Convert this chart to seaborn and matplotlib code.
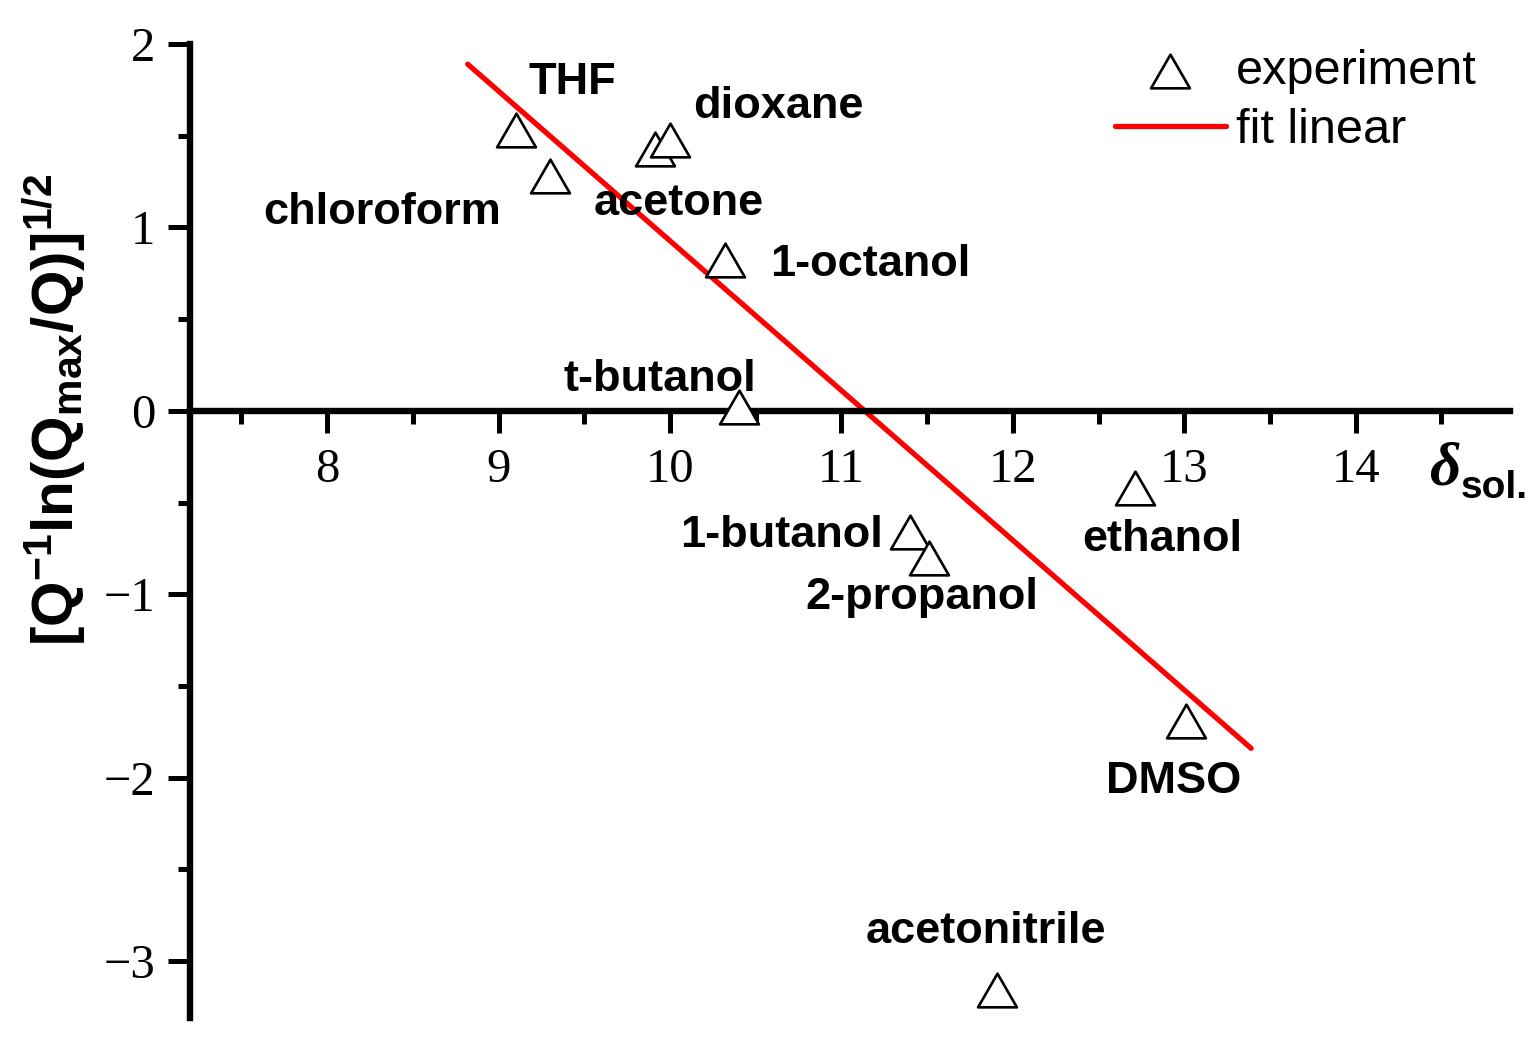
import numpy as np
import pandas as pd
import matplotlib
matplotlib.use("Agg")
import matplotlib.pyplot as plt
from matplotlib.ticker import MultipleLocator
from matplotlib.path import Path
import seaborn as sns

# data
solvents = ["THF", "chloroform", "acetone", "dioxane", "1-octanol", "t-butanol",
            "1-butanol", "2-propanol", "ethanol", "DMSO", "acetonitrile"]
delta_sol = [9.10, 9.30, 9.91, 10.00, 10.32, 10.40, 11.40, 11.51, 12.71, 13.01, 11.91]
q_val = [1.53, 1.28, 1.43, 1.475, 0.82, 0.02, -0.66, -0.80, -0.42, -1.69, -3.16]

# linear fit line end points
fit_x = [8.82, 13.39]
fit_y = [1.89, -1.84]

# label positions (text centres)
label_x = [9.43, 8.32, 10.05, 10.63, 11.17, 9.94, 10.65, 11.47, 12.87, 12.94, 11.84]
label_y = [1.79, 1.08, 1.13, 1.66, 0.80, 0.17, -0.68, -1.02, -0.70, -2.02, -2.84]

df = pd.DataFrame({"solvent": solvents, "delta": delta_sol, "q": q_val})
fit_df = pd.DataFrame({"delta": fit_x, "q": fit_y})

sns.set_style("ticks")
plt.rcParams['font.family'] = ['Liberation Sans', 'DejaVu Sans']
plt.rcParams['text.color'] = 'black'
plt.rcParams['axes.labelcolor'] = 'black'
plt.rcParams['mathtext.fontset'] = 'custom'
plt.rcParams['mathtext.rm'] = 'Liberation Sans:bold'
plt.rcParams['mathtext.it'] = 'Liberation Sans:bold'
plt.rcParams['mathtext.bf'] = 'Liberation Sans:bold'

fig = plt.figure(figsize=(15.39, 10.45), dpi=100)
ax = fig.add_axes([190 / 1539, 1 - 1018 / 1045, 1320 / 1539, 974 / 1045])

# equilateral open triangle
tri = Path([(-1, -0.866), (1, -0.866), (0, 0.866), (-1, -0.866)],
           [Path.MOVETO, Path.LINETO, Path.LINETO, Path.CLOSEPOLY])

sns.lineplot(data=fit_df, x="delta", y="q", ax=ax, color="#ff0000", lw=3.8,
             label="fit linear", zorder=2)
sns.scatterplot(data=df, x="delta", y="q", ax=ax, marker=tri, s=28 ** 2,
                facecolor="white", edgecolor="black", linewidth=1.9,
                label="experiment", zorder=3)

for name, lx, ly in zip(solvents, label_x, label_y):
    ax.text(lx, ly, name, ha="center", va="center", fontsize=32.5,
            fontweight="bold", family="Liberation Sans", color="black")

ax.set_xlim(7.2, 14.9)
ax.set_ylim(-3.31, 2.0)
ax.set_xlabel("")
ax.set_ylabel(r"$\mathrm{[Q^{-1}ln(Q_{max}/Q)]^{1/2}}$", fontsize=42)
ax.yaxis.set_label_coords(-0.077, 0.624)

ax.spines["top"].set_visible(False)
ax.spines["right"].set_visible(False)
ax.spines["bottom"].set_position(("data", 0))
for s in ["left", "bottom"]:
    ax.spines[s].set_linewidth(4.6)
    ax.spines[s].set_color("black")

ax.xaxis.set_minor_locator(MultipleLocator(0.5))
ax.yaxis.set_minor_locator(MultipleLocator(0.5))
ax.set_xticks([8, 9, 10, 11, 12, 13, 14])
ax.set_yticks([-3, -2, -1, 0, 1, 2])
ax.set_yticklabels(["\u22123", "\u22122", "\u22121", "0", "1", "2"])
ax.tick_params(which="major", direction="out", length=16, width=3.6, colors="black",
               labelsize=35, pad=9)
ax.tick_params(which="minor", direction="out", length=9, width=3.6, colors="black")
ax.tick_params(axis="x", which="major", pad=11)
ax.tick_params(bottom=True, left=True, top=False, right=False, which="both")
for t in ax.get_xticklabels() + ax.get_yticklabels():
    t.set_family("Liberation Serif")

ax.text(14.52, -0.32, "\u03b4", ha="center", va="center", fontsize=44,
        family="Liberation Serif", style="italic", fontweight="bold")
ax.text(14.615, -0.42, "sol.", ha="left", va="center", fontsize=28,
        family="Liberation Sans", fontweight="bold")

handles, labels = ax.get_legend_handles_labels()
order = [labels.index("experiment"), labels.index("fit linear")]
ax.legend(handles=[handles[i] for i in order], labels=["experiment", "fit linear"],
          loc="upper right", bbox_to_anchor=(1.008, 1.04), frameon=False,
          fontsize=35, handlelength=2.3, handletextpad=0.2, labelspacing=0.3)

fig.savefig("out.png", dpi=100)
